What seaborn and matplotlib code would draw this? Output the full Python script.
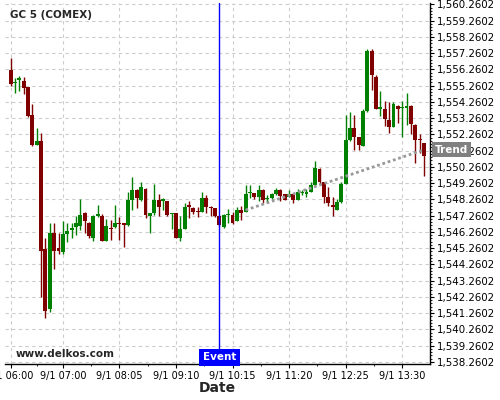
import numpy as np
import pandas as pd
import seaborn as sns
import matplotlib
matplotlib.use("Agg")
import matplotlib.pyplot as plt
import matplotlib.transforms as mtransforms
from matplotlib.ticker import FuncFormatter, FixedLocator

# 5 minute candles, GC 5 (COMEX), 9/1 from 06:00
opens = [1556.21, 1555.42, 1555.59, 1555.57, 1555.16, 1553.47, 1551.62, 1551.87, 1545.21, 1541.51,
         1546.18, 1545.25, 1545.04, 1546.15, 1546.36, 1546.55, 1546.65, 1547.45, 1546.83, 1545.90,
         1547.26, 1547.26, 1545.72, 1546.52, 1546.55, 1546.79, 1546.79, 1546.69, 1548.23, 1548.85,
         1548.23, 1548.91, 1547.26, 1547.45, 1548.23, 1548.19, 1548.13, 1547.38, 1547.41, 1545.90,
         1546.44, 1547.92, 1547.72, 1547.55, 1547.50, 1548.33, 1547.82, 1547.72, 1547.24, 1546.58,
         1547.27, 1547.30, 1546.93, 1547.61, 1547.47, 1548.64, 1548.64, 1548.43, 1548.85, 1548.27,
         1548.37, 1548.60, 1548.85, 1548.58, 1548.43, 1548.60, 1548.23, 1548.64, 1548.60, 1548.74,
         1549.15, 1550.14, 1549.32, 1548.43, 1547.92, 1547.61, 1548.09, 1549.22, 1551.89, 1552.65,
         1552.10, 1551.56, 1553.68, 1557.38, 1555.77, 1553.83, 1553.83, 1553.17, 1552.71, 1554.03,
         1553.86, 1553.89, 1554.03, 1552.86, 1551.93, 1551.73]
highs = [1556.97, 1555.74, 1555.88, 1555.82, 1555.20, 1554.13, 1552.65, 1552.35, 1545.87, 1546.79,
         1546.79, 1546.18, 1546.95, 1546.79, 1546.79, 1547.24, 1548.29, 1547.49, 1546.89, 1547.30,
         1547.92, 1547.35, 1547.04, 1547.00, 1547.92, 1547.18, 1546.81, 1548.74, 1549.63, 1548.88,
         1549.36, 1548.94, 1547.43, 1549.22, 1548.58, 1548.33, 1548.14, 1547.41, 1547.43, 1547.24,
         1548.02, 1548.13, 1547.80, 1547.78, 1548.74, 1548.54, 1547.83, 1547.74, 1547.27, 1547.35,
         1547.66, 1547.51, 1547.76, 1547.86, 1549.15, 1549.15, 1548.66, 1549.15, 1548.88, 1548.54,
         1548.64, 1548.95, 1548.88, 1548.60, 1548.85, 1548.63, 1548.89, 1548.85, 1548.89, 1549.36,
         1550.64, 1550.17, 1549.34, 1549.05, 1548.43, 1548.29, 1549.36, 1553.47, 1553.61, 1553.47,
         1552.12, 1553.83, 1557.53, 1557.53, 1555.94, 1554.91, 1554.29, 1554.26, 1554.26, 1554.06,
         1554.29, 1554.81, 1554.06, 1552.89, 1552.28, 1551.75]
lows = [1555.26, 1554.81, 1554.95, 1554.75, 1553.31, 1551.52, 1551.58, 1542.26, 1540.93, 1541.34,
        1543.97, 1544.88, 1544.88, 1545.66, 1545.87, 1546.09, 1546.38, 1546.17, 1545.87, 1545.72,
        1547.19, 1545.70, 1545.70, 1545.76, 1546.48, 1545.76, 1545.35, 1546.62, 1547.61, 1547.72,
        1548.17, 1547.10, 1546.17, 1547.30, 1547.24, 1547.61, 1547.24, 1546.42, 1545.87, 1545.70,
        1546.41, 1547.10, 1547.36, 1547.19, 1547.49, 1547.41, 1547.24, 1547.19, 1546.65, 1546.52,
        1546.79, 1546.75, 1546.90, 1547.00, 1547.46, 1548.33, 1548.29, 1548.13, 1548.02, 1548.02,
        1548.29, 1548.54, 1548.13, 1548.20, 1548.38, 1548.06, 1548.20, 1548.54, 1548.43, 1548.72,
        1549.09, 1549.15, 1548.02, 1547.88, 1547.26, 1547.58, 1548.02, 1549.19, 1551.87, 1551.31,
        1551.31, 1551.52, 1553.66, 1555.02, 1553.81, 1553.37, 1552.79, 1552.35, 1552.70, 1552.96,
        1552.13, 1552.86, 1552.30, 1550.49, 1551.11, 1549.71]
closes = [1555.39, 1555.47, 1555.71, 1555.12, 1553.37, 1551.58, 1551.87, 1545.10, 1541.40, 1546.18,
          1545.10, 1545.10, 1546.11, 1546.32, 1546.48, 1546.79, 1547.30, 1546.95, 1546.03, 1547.24,
          1547.35, 1545.72, 1546.62, 1546.44, 1546.83, 1546.72, 1546.69, 1548.23, 1548.85, 1548.33,
          1549.05, 1547.30, 1547.41, 1548.23, 1547.82, 1548.29, 1547.30, 1547.41, 1545.90, 1546.42,
          1547.78, 1547.78, 1547.50, 1547.49, 1548.33, 1547.82, 1547.72, 1547.24, 1546.69, 1547.30,
          1547.32, 1546.83, 1547.61, 1547.41, 1548.60, 1548.74, 1548.43, 1548.85, 1548.23, 1548.37,
          1548.58, 1548.85, 1548.48, 1548.23, 1548.60, 1548.23, 1548.70, 1548.74, 1548.74, 1549.15,
          1550.22, 1549.36, 1548.43, 1548.02, 1547.76, 1548.09, 1549.22, 1551.89, 1552.65, 1552.13,
          1551.62, 1553.68, 1557.38, 1555.90, 1553.84, 1553.92, 1553.23, 1552.71, 1554.15, 1553.84,
          1553.92, 1553.99, 1552.90, 1551.93, 1551.90, 1550.94]

start_time = "2019-09-01 06:00"
tick_bars = [0, 12, 25, 38, 51, 64, 77, 90]
event_bar = 48
trend_x = [54, 95]
trend_y = [1547.60, 1551.31]

df = pd.DataFrame({"open": opens, "high": highs, "low": lows, "close": closes})
df["i"] = np.arange(len(df))
df["time"] = pd.date_range(start_time, periods=len(df), freq="5min")
df["up"] = df["close"] >= df["open"]

sns.set_theme(style="white")
plt.rcParams['font.family'] = ['DejaVu Sans']

fig = plt.figure(figsize=(5, 4), dpi=100)
ax = fig.add_axes([0.01, 0.089, 0.85, 0.9035])

colors = np.where(df["up"], "#008000", "#800000")
ax.vlines(df["i"], df["low"], df["high"], colors=colors, linewidth=1, zorder=3)
body_bot = np.minimum(df["open"], df["close"])
body_h = np.maximum(np.abs(df["close"] - df["open"]), 0.06)
ax.bar(df["i"], body_h, bottom=body_bot, width=0.9, color=colors, linewidth=0, zorder=4)

# trend line
sns.lineplot(x=trend_x, y=trend_y, ax=ax, color="#999999", linestyle=(0, (1, 1)),
             linewidth=2, zorder=5)

ax.axvline(event_bar, color="blue", linewidth=1, zorder=6)

ax.set_xlim(-1.3, 96.4)
ax.set_ylim(1538.10, 1560.35)

ax.yaxis.tick_right()
ax.yaxis.set_label_position("right")
ax.yaxis.set_major_locator(FixedLocator([1538.2602 + k for k in range(23)]))
ax.yaxis.set_minor_locator(FixedLocator([1538.2602 + k * 0.2 for k in range(111)]))
ax.yaxis.set_major_formatter(FuncFormatter(lambda v, p: f"{v:,.4f}"))
ax.xaxis.set_major_locator(FixedLocator(tick_bars))
ax.xaxis.set_minor_locator(FixedLocator([6, 18.5, 31.5, 44.5, 57.5, 70.5, 83.5]))
ax.set_xticklabels([f"{t.month}/{t.day} {t:%H:%M}" for t in df["time"].iloc[tick_bars]])

ax.tick_params(axis="both", which="major", length=3, width=0.8,
               color="black", labelcolor="black", direction="out", pad=2)
ax.tick_params(axis="x", which="major", labelsize=7)
ax.tick_params(axis="y", which="major", labelsize=7.4)
ax.tick_params(axis="both", which="minor", length=1.5, width=0.6, color="black", direction="out")
ax.tick_params(axis="y", which="both", right=True, left=False)
ax.tick_params(axis="x", which="both", bottom=True)

ax.grid(True, which="major", color="#cccccc", linestyle=(0, (3, 3)), linewidth=0.8)
for side in ["left", "top"]:
    ax.spines[side].set_visible(False)
for side in ["right", "bottom"]:
    ax.spines[side].set_visible(True)
    ax.spines[side].set_color("black")
    ax.spines[side].set_linewidth(1)

ax.set_xlabel("Date", fontsize=10, fontweight="bold", labelpad=0)

ax.text(0.012, 0.967, "GC 5 (COMEX)", transform=ax.transAxes, fontsize=7.5,
        fontweight="bold", va="center", ha="left")
ax.text(0.024, 0.028, "www.delkos.com", transform=ax.transAxes, fontsize=7.5,
        fontweight="bold", va="center", ha="left")

blend = mtransforms.blended_transform_factory(ax.transData, ax.transAxes)
ax.text(event_bar, 0.02, "Event", transform=blend, fontsize=7.5, fontweight="bold",
        color="white", ha="center", va="center", zorder=10,
        bbox=dict(boxstyle="square,pad=0.35", facecolor="#0000ff", edgecolor="none"))

blend2 = mtransforms.blended_transform_factory(ax.transAxes, ax.transData)
ax.text(1.012, trend_y[-1], "Trend", transform=blend2, fontsize=7.5, fontweight="bold",
        color="white", ha="left", va="center", zorder=10, clip_on=False,
        bbox=dict(boxstyle="square,pad=0.25", facecolor="#808080", edgecolor="none"))

fig.savefig("out.png", dpi=100)
